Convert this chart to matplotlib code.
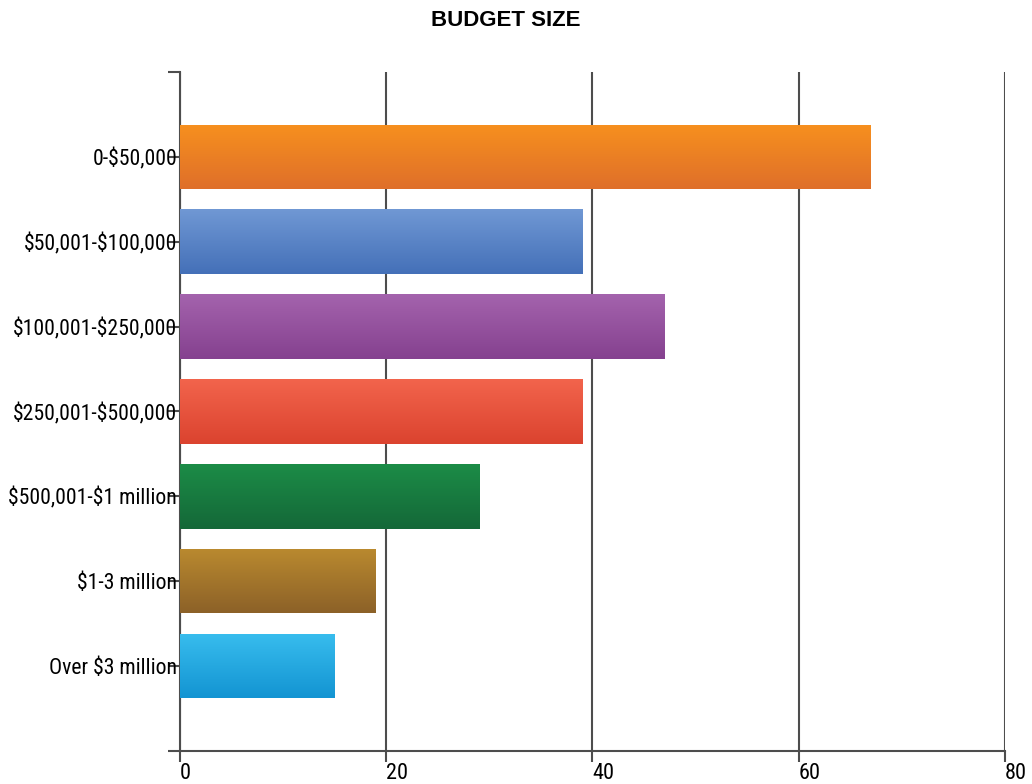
"""Horizontal bar chart of budget sizes with gradient-filled bars."""

import numpy as np
import matplotlib.pyplot as plt
from matplotlib.colors import LinearSegmentedColormap

plt.rcParams["text.parse_math"] = False

categories = ["0-$50,000", "$50,001-$100,000", "$100,001-$250,000",
              "$250,001-$500,000", "$500,001-$1 million", "$1-3 million",
              "Over $3 million"]
values = [67, 39, 47, 39, 29, 19, 15]
# (top colour, bottom colour) for each bar's vertical gradient
bar_colors = [("#f7901e", "#df6f2a"), ("#7098d4", "#4470b8"),
              ("#a463ad", "#85418f"), ("#f2644c", "#db432f"),
              ("#1c8c47", "#146838"), ("#ba8a2f", "#8c6128"),
              ("#38bdee", "#1394d2")]
x_ticks = [0, 20, 40, 60, 80]

axis_color = "#4d4d4d"
label_font = ["Roboto Condensed", "Liberation Sans Narrow", "DejaVu Sans Condensed", "DejaVu Sans"]

fig = plt.figure(figsize=(10.32, 7.84), dpi=100)
ax = fig.add_axes([0.1744, 0.0421, 0.7994, 0.8661])

y_pos = np.arange(len(categories))
bars = ax.barh(y_pos, values, height=0.76, color="none", edgecolor="none", zorder=3)

gradient = np.linspace(0, 1, 256).reshape(-1, 1)
for bar, (top, bottom) in zip(bars, bar_colors):
    cmap = LinearSegmentedColormap.from_list("g", [top, bottom])
    x0, y0 = bar.get_x(), bar.get_y()
    w, h = bar.get_width(), bar.get_height()
    img = ax.imshow(gradient, cmap=cmap, aspect="auto", zorder=3,
                    extent=(x0, x0 + w, y0 + h, y0), origin="upper",
                    interpolation="bilinear")
    img.set_clip_path(bar)

ax.set_xlim(0, 80)
ax.set_ylim(len(categories), -1)
ax.set_xticks(x_ticks)
ax.set_xticklabels([str(t) for t in x_ticks], fontfamily=label_font, fontsize=16)
for lbl in ax.get_xticklabels():
    lbl.set_horizontalalignment("left")
ax.set_yticks(y_pos)
ax.set_yticklabels(categories, fontfamily=label_font, fontsize=15.7)
ax.set_yticks([-1, len(categories)], minor=True)

ax.tick_params(axis="x", length=8, width=1.5, color=axis_color, pad=1)
ax.tick_params(axis="y", which="both", length=9, width=1.5, color=axis_color, pad=-7)

ax.grid(axis="x", color=axis_color, linewidth=1.5, zorder=1)
for side in ["top", "right"]:
    ax.spines[side].set_visible(False)
for side in ["left", "bottom"]:
    ax.spines[side].set_color(axis_color)
    ax.spines[side].set_linewidth(1.5)

fig.text(0.49, 0.974, "BUDGET SIZE", ha="center", va="center",
         fontsize=16, fontweight="bold", fontfamily="Liberation Sans")

fig.savefig("out.png", dpi=100)
